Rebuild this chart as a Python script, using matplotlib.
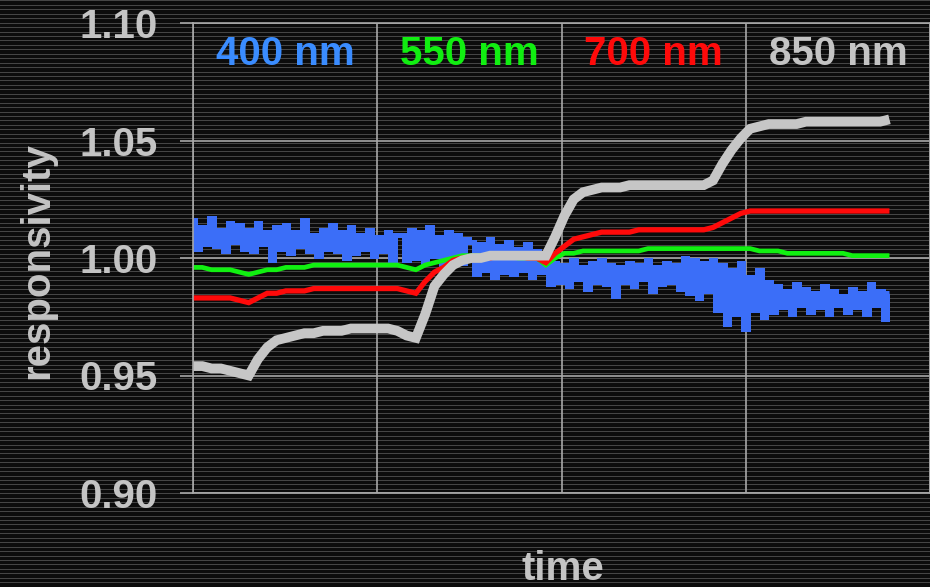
import numpy as np
import matplotlib
matplotlib.use("Agg")
import matplotlib.pyplot as plt

plt.rcParams['font.family'] = ['Liberation Sans', 'DejaVu Sans']
plt.rcParams['font.weight'] = 'bold'

# responsivity traces, evenly sampled over the run
r850 = [0.954, 0.954, 0.953, 0.953, 0.952, 0.951, 0.950, 0.957, 0.962, 0.965,
        0.966, 0.967, 0.968, 0.968, 0.969, 0.969, 0.969, 0.970, 0.970, 0.970,
        0.970, 0.970, 0.969, 0.967, 0.966, 0.976, 0.988, 0.993, 0.997, 0.999,
        1.000, 1.000, 1.001, 1.001, 1.001, 1.001, 1.001, 1.001, 1.001, 1.009,
        1.018, 1.025, 1.028, 1.029, 1.030, 1.030, 1.030, 1.031, 1.031, 1.031,
        1.031, 1.031, 1.031, 1.031, 1.031, 1.031, 1.033, 1.040, 1.046, 1.051,
        1.055, 1.056, 1.057, 1.057, 1.057, 1.057, 1.058, 1.058, 1.058, 1.058,
        1.058, 1.058, 1.058, 1.058, 1.058, 1.059]
r700 = [0.983, 0.983, 0.983, 0.983, 0.983, 0.982, 0.981, 0.983, 0.985, 0.985,
        0.986, 0.986, 0.986, 0.987, 0.987, 0.987, 0.987, 0.987, 0.987, 0.987,
        0.987, 0.987, 0.987, 0.986, 0.985, 0.990, 0.994, 0.996, 0.999, 1.000,
        1.000, 1.000, 1.000, 1.001, 1.001, 1.001, 1.000, 1.000, 0.998, 1.002,
        1.005, 1.008, 1.009, 1.010, 1.011, 1.011, 1.011, 1.011, 1.012, 1.012,
        1.012, 1.012, 1.012, 1.012, 1.012, 1.012, 1.013, 1.015, 1.017, 1.019,
        1.020, 1.020, 1.020, 1.020, 1.020, 1.020, 1.020, 1.020, 1.020, 1.020,
        1.020, 1.020, 1.020, 1.020, 1.020, 1.020]
r550 = [0.996, 0.996, 0.995, 0.995, 0.995, 0.994, 0.993, 0.994, 0.995, 0.995,
        0.996, 0.996, 0.996, 0.997, 0.997, 0.997, 0.997, 0.997, 0.997, 0.997,
        0.997, 0.997, 0.997, 0.996, 0.995, 0.997, 0.998, 0.999, 1.000, 1.001,
        1.001, 1.001, 1.001, 1.001, 1.001, 1.000, 1.000, 1.000, 0.997, 1.000,
        1.002, 1.002, 1.003, 1.003, 1.003, 1.003, 1.003, 1.003, 1.003, 1.004,
        1.004, 1.004, 1.004, 1.004, 1.004, 1.004, 1.004, 1.004, 1.004, 1.004,
        1.004, 1.003, 1.003, 1.003, 1.002, 1.002, 1.002, 1.002, 1.002, 1.002,
        1.002, 1.001, 1.001, 1.001, 1.001, 1.001]
r400 = [1.016, 1.004, 1.013, 1.006, 1.017, 1.005, 1.012, 1.003, 1.015, 1.007, 1.014, 1.004,
        1.012, 1.003, 1.015, 1.006, 1.011, 0.999, 1.013, 1.004, 1.014, 1.002, 1.011, 1.005,
        1.016, 1.003, 1.010, 1.001, 1.012, 1.004, 1.014, 1.003, 1.011, 1.000, 1.013, 1.002,
        1.010, 1.004, 1.012, 1.001, 1.009, 1.003, 1.011, 0.999, 1.010,
        1.010, 0.999, 1.012, 1.000, 1.011, 0.998, 1.013, 1.001, 1.009, 0.997, 1.011, 1.000,
        1.010, 0.998, 1.008,
        1.007, 0.993, 1.006, 0.995, 1.008, 0.992, 1.005, 0.994, 1.007, 0.993, 1.004, 0.995,
        1.006, 0.992, 1.003,
        0.994, 0.999, 0.989, 0.998, 0.990, 0.997, 0.988, 0.999, 0.991, 0.996, 0.987, 0.998,
        0.990, 0.999, 0.989, 0.997, 0.984, 0.996, 0.990, 0.998, 0.988, 0.997, 0.991, 0.999,
        0.986, 0.996, 0.989, 0.998, 0.990, 0.997, 0.987, 1.000, 0.985, 0.999, 0.983, 0.998,
        0.986,
        0.999, 0.978, 0.997, 0.972, 0.995, 0.976, 0.998, 0.970, 0.992, 0.978, 0.995, 0.975,
        0.990,
        0.977, 0.988, 0.979, 0.986, 0.976, 0.989, 0.980, 0.987, 0.977, 0.985, 0.979, 0.988,
        0.976, 0.986, 0.980, 0.984, 0.977, 0.987, 0.979, 0.985, 0.976, 0.989, 0.980, 0.986,
        0.974, 0.985]

labels = ["400 nm", "550 nm", "700 nm", "850 nm"]
label_x = [0.5, 1.5, 2.5, 3.5]
yticks = [0.90, 0.95, 1.00, 1.05, 1.10]
t_end = 3.78

W, H = 930, 587
fig = plt.figure(figsize=(W / 100, H / 100), dpi=100, facecolor='#0d0d0d')

# scanline backdrop
rows = np.arange(H)
stripe = np.where((rows % 4.44) < 1.0, 0.27, 0.05)
bg = np.repeat(stripe[:, None], W, axis=1)
fig.figimage(bg, cmap='gray', vmin=0, vmax=1, origin='upper', zorder=-1)

ax = fig.add_axes([193 / W, 1 - 493 / H, (W - 193) / W, (493 - 23) / H])
ax.set_facecolor('none')
ax.set_zorder(2)

# the 400 nm trace is drawn as steps so the noise reads as vertical bars
series = [(r400, '#3b6ef8', 3.6, 'steps-mid'), (r550, '#11f011', 3.4, 'default'),
          (r700, '#ff0a0a', 3.8, 'default'), (r850, '#c6c6c6', 7.0, 'default')]
for vals, col, lw, ds in series:
    t = np.linspace(0, t_end, len(vals))
    ax.plot(t, vals, color=col, lw=lw, drawstyle=ds, solid_joinstyle='miter',
            solid_capstyle='butt')

ax.set_xlim(0, 4)
ax.set_ylim(0.90, 1.10)
ax.set_xticks([0, 1, 2, 3, 4])
ax.set_yticks(yticks)
ax.set_yticklabels([f"{v:.2f}" for v in yticks])
ax.grid(True, color='#a8a8a8', lw=1.2)
ax.tick_params(axis='x', length=0, labelbottom=False)
ax.tick_params(axis='y', direction='out', length=9.4, width=1.2, color='#a8a8a8',
               pad=16, labelsize=29, labelcolor='#c4c4c4')
for s in ax.spines.values():
    s.set_color('#a8a8a8')
    s.set_linewidth(1.2)

label_colors = ['#3a8cff', '#11ee11', '#ff0a0a', '#c4c4c4']
for x, txt, col in zip(label_x, labels, label_colors):
    ax.text(x, 1.0868, txt, color=col, fontsize=29, fontweight='bold',
            ha='center', va='center')

fig.text(563 / W, 1 - 580 / H, "time", color='#c4c4c4', fontsize=29,
         fontweight='bold', ha='center', va='baseline')
fig.text(37 / W, 1 - 261 / H, "responsivity", color='#c4c4c4', fontsize=29,
         fontweight='bold', ha='center', va='center', rotation=90)

fig.savefig("out.png", dpi=100, facecolor=fig.get_facecolor())
